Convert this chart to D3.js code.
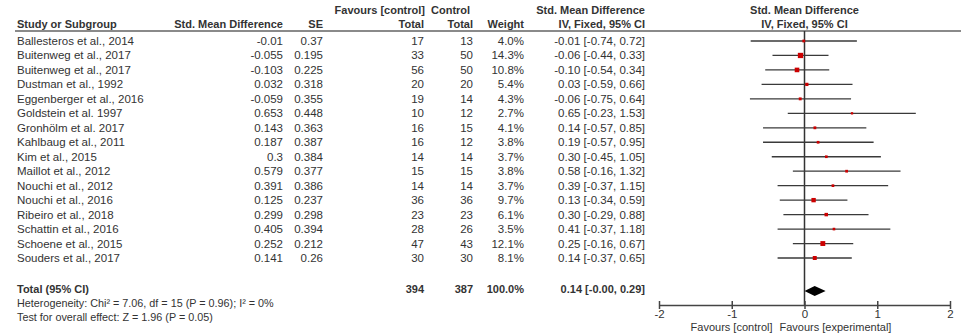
<!DOCTYPE html>
<html>
<head>
<meta charset="utf-8">
<script src="https://cdn.jsdelivr.net/npm/d3@7"></script>
<style>
  html, body { margin: 0; padding: 0; background: #fff; }
  svg { display: block; font-family: "Liberation Sans", Arial, sans-serif; }
</style>
</head>
<body>
<svg id="chart" width="961" height="335"></svg>
<script>
// Study-level data
const studies = [
  "Ballesteros et al., 2014", "Buitenweg et al., 2017", "Buitenweg et al., 2017",
  "Dustman et al., 1992", "Eggenberger et al., 2016", "Goldstein et al. 1997",
  "Gronhölm et al. 2017", "Kahlbaug et al., 2011", "Kim et al., 2015",
  "Maillot et al., 2012", "Nouchi et al., 2012", "Nouchi et al., 2016",
  "Ribeiro et al., 2018", "Schattin et al., 2016", "Schoene et al., 2015",
  "Souders et al., 2017"
];
const smd = [-0.01, -0.055, -0.103, 0.032, -0.059, 0.653, 0.143, 0.187, 0.3, 0.579, 0.391, 0.125, 0.299, 0.405, 0.252, 0.141];
const se = [0.37, 0.195, 0.225, 0.318, 0.355, 0.448, 0.363, 0.387, 0.384, 0.377, 0.386, 0.237, 0.298, 0.394, 0.212, 0.26];
const expTotal = [17, 33, 56, 20, 19, 10, 16, 16, 14, 15, 14, 36, 23, 28, 47, 30];
const ctrlTotal = [13, 50, 50, 20, 14, 12, 15, 12, 14, 15, 14, 36, 23, 26, 43, 30];
const weight = [4.0, 14.3, 10.8, 5.4, 4.3, 2.7, 4.1, 3.8, 3.7, 3.8, 3.7, 9.7, 6.1, 3.5, 12.1, 8.1];
const ciEst = [-0.01, -0.06, -0.10, 0.03, -0.06, 0.65, 0.14, 0.19, 0.30, 0.58, 0.39, 0.13, 0.30, 0.41, 0.25, 0.14];
const ciLow = [-0.74, -0.44, -0.54, -0.59, -0.75, -0.23, -0.57, -0.57, -0.45, -0.16, -0.37, -0.34, -0.29, -0.37, -0.16, -0.37];
const ciHigh = [0.72, 0.33, 0.34, 0.66, 0.64, 1.53, 0.85, 0.95, 1.05, 1.32, 1.15, 0.59, 0.88, 1.18, 0.67, 0.65];

// Pooled result
const totalExp = 394;
const totalCtrl = 387;
const totalWeight = 100.0;
const totalEst = 0.14;
const totalLow = -0.00;
const totalHigh = 0.29;
const heterogeneityText = "Heterogeneity: Chi² = 7.06, df = 15 (P = 0.96); I² = 0%";
const overallText = "Test for overall effect: Z = 1.96 (P = 0.05)";

// Axis
const tickValues = [-2, -1, 0, 1, 2];
const tickLabels = ["-2", "-1", "0", "1", "2"];

const fmt = v => ((v < 0 || Object.is(v, -0)) ? "-" : "") + Math.abs(v).toFixed(2);
const ciLabel = (e, l, h) => `${fmt(e)} [${fmt(l)}, ${fmt(h)}]`;

const svg = d3.select("#chart");
const ink = "#333";
const fs = 11.5;
const hfs = 11;

const x = d3.scaleLinear().domain([-2, 2]).range([659, 950]);
const y = d3.scaleLinear().domain([0, studies.length - 1]).range([41, 258]);
const totalY = 289;
const axisY = 305;

// Column anchors
const col = { study: 17, smd: 283, se: 323, exp: 424, ctrl: 473, w: 524, ci: 645 };

function txt(g, xx, yy, s, anchor, opts = {}) {
  return g.append("text")
    .attr("x", xx).attr("y", yy).attr("dy", "0.35em")
    .attr("text-anchor", anchor)
    .attr("font-size", opts.size || fs)
    .attr("font-weight", opts.bold ? "bold" : null)
    .attr("fill", ink)
    .text(s);
}

// Headers
const hdr = svg.append("g");
const hb = { bold: true, size: hfs };
txt(hdr, col.exp + 1, 10, "Favours [control]", "end", hb);
txt(hdr, col.exp + 7, 10, "Control", "start", hb);
txt(hdr, col.ci, 10, "Std. Mean Difference", "end", hb);
txt(hdr, x(0), 10, "Std. Mean Difference", "middle", hb);

txt(hdr, col.study, 24, "Study or Subgroup", "start", hb);
txt(hdr, col.smd, 24, "Std. Mean Difference", "end", hb);
txt(hdr, col.se, 24, "SE", "end", hb);
txt(hdr, col.exp, 24, "Total", "end", hb);
txt(hdr, col.ctrl, 24, "Total", "end", hb);
txt(hdr, col.w, 24, "Weight", "end", hb);
txt(hdr, col.ci, 24, "IV, Fixed, 95% CI", "end", hb);
txt(hdr, x(0), 24, "IV, Fixed, 95% CI", "middle", hb);

svg.append("line")
  .attr("x1", 15).attr("x2", 961).attr("y1", 31).attr("y2", 31)
  .attr("stroke", "#8a8a8a").attr("stroke-width", 2);

// Study rows
const rows = svg.append("g").selectAll("g").data(studies).join("g")
  .attr("transform", (d, i) => `translate(0,${y(i)})`);

rows.each(function (d, i) {
  const g = d3.select(this);
  txt(g, col.study, 0, d, "start");
  txt(g, col.smd, 0, String(smd[i]), "end");
  txt(g, col.se, 0, String(se[i]), "end");
  txt(g, col.exp, 0, expTotal[i], "end");
  txt(g, col.ctrl, 0, ctrlTotal[i], "end");
  txt(g, col.w, 0, weight[i].toFixed(1) + "%", "end");
  txt(g, col.ci, 0, ciLabel(ciEst[i], ciLow[i], ciHigh[i]), "end");
});

// Zero line
svg.append("line")
  .attr("x1", x(0)).attr("x2", x(0)).attr("y1", 31).attr("y2", axisY)
  .attr("stroke", "#333").attr("stroke-width", 1.5);

// Confidence intervals and weighted squares
const plot = svg.append("g");
plot.selectAll("line.ci").data(studies).join("line")
  .attr("class", "ci")
  .attr("x1", (d, i) => x(ciLow[i])).attr("x2", (d, i) => x(ciHigh[i]))
  .attr("y1", (d, i) => y(i)).attr("y2", (d, i) => y(i))
  .attr("stroke", "#3a3a3a").attr("stroke-width", 1.3);

const side = w => 1.4 * Math.sqrt(w);
plot.selectAll("rect.pt").data(studies).join("rect")
  .attr("class", "pt")
  .attr("x", (d, i) => x(smd[i]) - side(weight[i]) / 2)
  .attr("y", (d, i) => y(i) - side(weight[i]) / 2)
  .attr("width", (d, i) => side(weight[i]))
  .attr("height", (d, i) => side(weight[i]))
  .attr("fill", "#cc0000");

// Total row
const tot = svg.append("g").attr("transform", `translate(0,${totalY})`);
const tb = { bold: true, size: hfs };
txt(tot, col.study, 0, "Total (95% CI)", "start", tb);
txt(tot, col.exp, 0, totalExp, "end", tb);
txt(tot, col.ctrl, 0, totalCtrl, "end", tb);
txt(tot, col.w, 0, totalWeight.toFixed(1) + "%", "end", tb);
txt(tot, col.ci, 0, ciLabel(totalEst, totalLow, totalHigh), "end", tb);

const dh = 5;
svg.append("path")
  .attr("d", `M${x(totalLow)},${totalY + 2} L${x(totalEst)},${totalY + 2 - dh} L${x(totalHigh)},${totalY + 2} L${x(totalEst)},${totalY + 2 + dh} Z`)
  .attr("fill", "#000");

txt(svg, col.study, 303, heterogeneityText, "start", { size: 10.8 });
txt(svg, col.study, 317, overallText, "start", { size: 10.8 });

// Bottom axis with ticks crossing the line
const axis = d3.axisBottom(x).tickValues(tickValues)
  .tickFormat((d, i) => tickLabels[i]).tickSizeOuter(0).tickSizeInner(4).tickPadding(1);
const ag = svg.append("g").attr("transform", `translate(0,${axisY})`).call(axis);
ag.select(".domain").attr("stroke", "#444").attr("stroke-width", 1.5);
ag.selectAll(".tick line").attr("y1", -4).attr("y2", 4).attr("stroke", "#444").attr("stroke-width", 1.5);
ag.selectAll(".tick text").attr("font-size", 11.5).attr("fill", ink)
  .attr("font-family", "Liberation Sans, Arial, sans-serif");

txt(svg, x(0) - 32, 327, "Favours [control]", "end", { size: 11 });
txt(svg, x(0) - 25, 327, "Favours [experimental]", "start", { size: 11 });
</script>
</body>
</html>
